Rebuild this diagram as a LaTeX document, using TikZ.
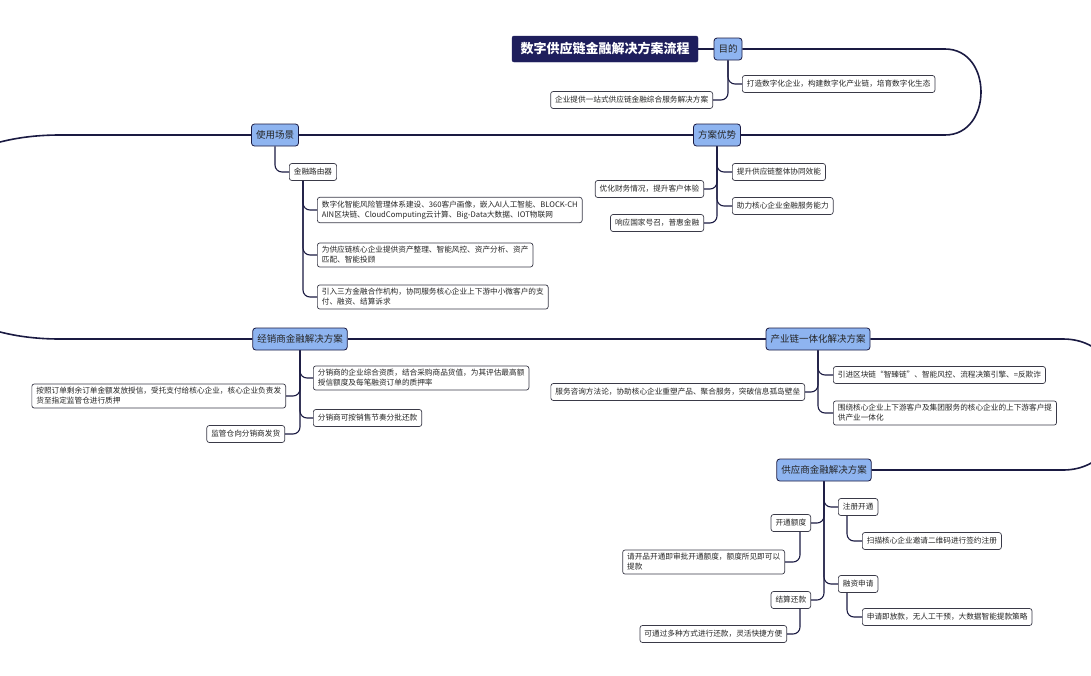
\documentclass[tikz,border=0pt]{standalone}
\usepackage{fontspec}
\setmainfont{Noto Sans CJK SC}
\usepackage{xcolor}
\usepackage{tikz}
\definecolor{spinecol}{RGB}{26,26,66}
\definecolor{titlecol}{RGB}{30,30,92}
\definecolor{branchcol}{RGB}{142,180,240}
\definecolor{edgecol}{RGB}{58,58,72}

\begin{document}
\begin{tikzpicture}[
    x=1pt, y=-1pt,
    every node/.style={font=\fontsize{7.65}{10}\selectfont, text=black!85},
    title/.style={rectangle, fill=titlecol, draw=titlecol, text=white, rounded corners=2pt, font=\fontsize{13}{15}\selectfont\bfseries, inner xsep=8.5pt, minimum height=26pt},
    branch/.style={rectangle, fill=branchcol, draw=spinecol, line width=0.8pt, rounded corners=3pt, font=\fontsize{9.5}{11}\selectfont, inner xsep=4.5pt, minimum height=22pt},
    leaf/.style={rectangle, fill=white, draw=edgecol, line width=0.7pt, rounded corners=2.5pt, align=left, inner xsep=4.5pt, inner ysep=3.5pt, minimum height=17pt},
    spine/.style={draw=spinecol, line width=1.6pt},
    link/.style={draw=spinecol, line width=1.1pt, rounded corners=7pt}
]
\useasboundingbox (0,0) rectangle (1091,675);

% Nodes
\node[title] (root) at (605,49) {数字供应链金融解决方案流程};
\node[branch] (goal) at (728,49) {目的};
\node[leaf, anchor=west] (goal1) at (742,84) {打造数字化企业，构建数字化产业链，培育数字化生态};
\node[leaf, anchor=east] (goal2) at (713,100) {企业提供一站式供应链金融综合服务解决方案};

\node[branch] (adv) at (717,135) {方案优势};
\node[leaf, anchor=west] (adv1) at (732,172) {提升供应链整体协同效能};
\node[leaf, anchor=west] (adv2) at (732,206) {助力核心企业金融服务能力};
\node[leaf, anchor=east] (adv3) at (704,189) {优化财务情况，提升客户体验};
\node[leaf, anchor=east] (adv4) at (704,223) {响应国家号召，普惠金融};

\node[branch] (scene) at (275,135) {使用场景};
\node[leaf, anchor=west] (router) at (289,172) {金融路由器};
\node[leaf, anchor=west] (scene1) at (317,210) {数字化智能风险管理体系建设、360客户画像，嵌入AI人工智能、BLOCK-CH\\AIN区块链、CloudComputing云计算、Big-Data大数据、IOT物联网};
\node[leaf, anchor=west] (scene2) at (317,255) {为供应链核心企业提供资产整理、智能风控、资产分析、资产\\匹配、智能投顾};
\node[leaf, anchor=west] (scene3) at (317,297) {引入三方金融合作机构，协同服务核心企业上下游中小微客户的支\\付、融资、结算诉求};

\node[branch] (dealer) at (300,339) {经销商金融解决方案};
\node[leaf, anchor=west] (dealer1) at (313,378) {分销商的企业综合资质，结合采购商品货值，为其评估最高额\\授信额度及每笔融资订单的质押率};
\node[leaf, anchor=west] (dealer2) at (313,418) {分销商可按销售节奏分批还款};
\node[leaf, anchor=east] (dealer3) at (286,396) {按照订单剩余订单金额发放授信，受托支付给核心企业，核心企业负责发\\货至指定监管仓进行质押};
\node[leaf, anchor=east] (dealer4) at (285,434) {监管仓向分销商发货};

\node[branch] (chain) at (818,339) {产业链一体化解决方案};
\node[leaf, anchor=west] (chain1) at (833,375) {引进区块链“智臻链”、智能风控、流程决策引擎、=反欺诈};
\node[leaf, anchor=west] (chain2) at (833,413) {围绕核心企业上下游客户及集团服务的核心企业的上下游客户提\\供产业一体化};
\node[leaf, anchor=east] (chain3) at (805,392) {服务咨询方法论，协助核心企业重塑产品、聚合服务，突破信息孤岛壁垒};

\node[branch] (supplier) at (824,470) {供应商金融解决方案};
\node[leaf, anchor=west] (reg) at (838,507) {注册开通};
\node[leaf, anchor=west] (loan) at (838,584) {融资申请};
\node[leaf, anchor=east] (quota) at (811,523) {开通额度};
\node[leaf, anchor=east] (settle) at (811,600) {结算还款};
\node[leaf, anchor=west] (reg1) at (862,541) {扫描核心企业邀请二维码进行签约注册};
\node[leaf, anchor=west] (loan1) at (862,617) {申请即放款，无人工干预，大数据智能提款策略};
\node[leaf, anchor=east] (quota1) at (785,562) {请开品开通即审批开通额度，额度所见即可以\\提款};
\node[leaf, anchor=east] (settle1) at (787,634) {可通过多种方式进行还款，灵活快捷方便};

% Turning points of the main line
\coordinate (turnA) at (945,49);
\coordinate (turnB) at (945,135);
\coordinate (turnC) at (60,135);
\coordinate (turnD) at (60,339);
\coordinate (turnE) at (1063,339);
\coordinate (turnF) at (1063,470);

% Main line
\draw[spine] (root) -- (goal);
\draw[spine] (goal.east) -- (turnA) .. controls +(48,0) and +(48,0) .. (turnB) -- (adv.east);
\draw[spine] (adv) -- (scene);
\draw[spine] (scene.west) -- (turnC) .. controls +(-202,0) and +(-202,0) .. (turnD) -- (dealer.west);
\draw[spine] (dealer) -- (chain);
\draw[spine] (chain.east) -- (turnE) .. controls +(78,0) and +(78,0) .. (turnF) -- (supplier.east);

% Branches
\draw[link] (goal.south) |- (goal1.west);
\draw[link] (goal.south) |- (goal2.east);
\foreach \c in {adv1, adv2} \draw[link] (adv.south) |- (\c.west);
\foreach \c in {adv3, adv4} \draw[link] (adv.south) |- (\c.east);
\draw[link] (scene.south) |- (router.west);
\foreach \c in {scene1, scene2, scene3} \draw[link] ([xshift=14pt]router.south west) |- (\c.west);
\foreach \c in {dealer1, dealer2} \draw[link] (dealer.south) |- (\c.west);
\foreach \c in {dealer3, dealer4} \draw[link] (dealer.south) |- (\c.east);
\foreach \c in {chain1, chain2} \draw[link] (chain.south) |- (\c.west);
\draw[link] (chain.south) |- (chain3.east);
\foreach \c in {reg, loan} \draw[link] (supplier.south) |- (\c.west);
\foreach \c in {quota, settle} \draw[link] (supplier.south) |- (\c.east);
\draw[link] ([xshift=9pt]reg.south west) |- (reg1.west);
\draw[link] ([xshift=9pt]loan.south west) |- (loan1.west);
\draw[link] ([xshift=-11pt]quota.south east) |- (quota1.east);
\draw[link] ([xshift=-11pt]settle.south east) |- (settle1.east);

\end{tikzpicture}
\end{document}
